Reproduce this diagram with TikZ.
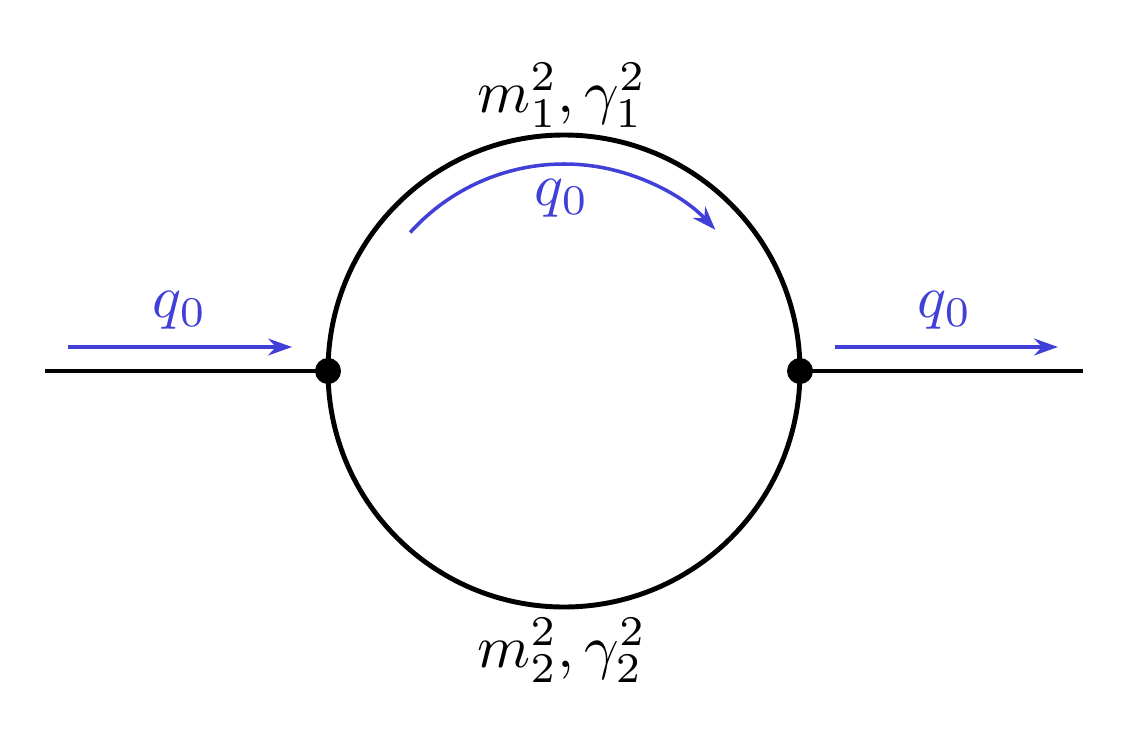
\documentclass[tikz,border=0pt]{standalone}
\usetikzlibrary{arrows.meta}
\begin{document}
\begin{tikzpicture}[x=0.025cm,y=-0.025cm,
  prop/.style={line width=3.5pt},
  mom/.style={draw={rgb,255:red,64;green,64;blue,216},line width=2.5pt,-{Stealth[length=17pt,width=12pt]}},
  lab/.style={scale=4.3},
  blab/.style={scale=4.3,text={rgb,255:red,64;green,64;blue,216}}]
\useasboundingbox (0,0) rectangle (1128,743);
\coordinate (c) at (564,371);
\coordinate (l) at (328,371);
\coordinate (r) at (800,371);
\coordinate (le) at (45,371);
\coordinate (re) at (1083,371);
\draw[prop] (c) circle (236);
\draw[prop] (le) -- (l);
\draw[prop] (r) -- (re);
\fill (l) circle (13);
\fill (r) circle (13);
\coordinate (a1) at (68,347); \coordinate (a2) at (292,347);
\coordinate (b1) at (835,347); \coordinate (b2) at (1058,347);
\draw[mom] (a1) -- (a2);
\draw[mom] (b1) -- (b2);
\draw[mom] ([shift={(-138:207)}]c) arc[start angle=-138,end angle=-43,radius=207];
\node[blab] (q1) at (180,310) {$q_0$};
\node[blab] (q2) at (945,310) {$q_0$};
\node[blab] (q3) at (562,198) {$q_0$};
\node[lab] (m1) at (562,95) {$m_1^2,\gamma_1^2$};
\node[lab] (m2) at (562,650) {$m_2^2,\gamma_2^2$};
\end{tikzpicture}
\end{document}
